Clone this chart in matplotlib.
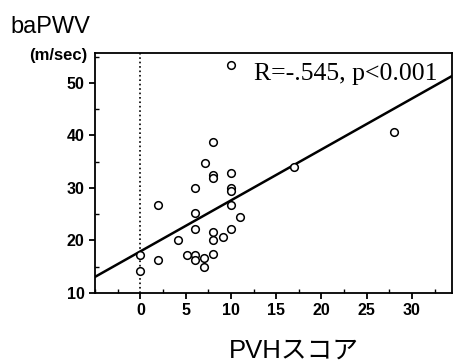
import numpy as np
import matplotlib.pyplot as plt
from matplotlib.ticker import MultipleLocator

# PVHスコア vs baPWV
pvh = [10, 8, 7.1, 8, 8, 10, 10, 10, 6, 2, 10, 11, 6, 6, 4.2, 8, 8, 9.1, 10,
       0, 0, 2, 5.1, 6, 6, 7, 7, 8, 17, 28]
bapwv = [53.4, 38.8, 34.7, 32.5, 31.8, 32.8, 29.9, 29.3, 29.9, 26.8, 26.8, 24.5,
         25.3, 22.1, 20.1, 21.5, 20.0, 20.7, 22.2, 17.2, 14.1, 16.2, 17.2, 17.2,
         16.2, 16.6, 15.0, 17.4, 33.9, 40.7]

# regression line
fit_intercept = 17.9
fit_slope = 0.97

xticks = [0, 5, 10, 15, 20, 25, 30]
yticks = [10, 20, 30, 40, 50]

plt.rcParams['font.family'] = ['Liberation Sans', 'Noto Sans CJK JP']

fig = plt.figure(figsize=(4.55, 3.62), dpi=100)
ax = fig.add_axes([0.209, 0.191, 0.784, 0.663])

xlim = (-5, 34.4)
ylim = (10, 55.7)

ax.axvline(0, color='black', linestyle=':', linewidth=1.2)
xs = np.array(xlim)
ax.plot(xs, fit_intercept + fit_slope * xs, color='black', linewidth=1.8)
ax.plot(pvh, bapwv, 'o', markerfacecolor='white', markeredgecolor='black',
        markersize=5.5, markeredgewidth=1.1, linestyle='none')

ax.set_xlim(xlim)
ax.set_ylim(ylim)
ax.set_xticks(xticks)
ax.set_yticks(yticks)
ax.yaxis.set_minor_locator(MultipleLocator(5))
ax.xaxis.set_minor_locator(MultipleLocator(2.5))
ax.tick_params(which='major', direction='out', length=4, width=1.3, labelsize=11.5)
ax.tick_params(which='minor', direction='in', length=3, width=1)
for lbl in ax.get_xticklabels() + ax.get_yticklabels():
    lbl.set_fontweight('bold')
for s in ax.spines.values():
    s.set_linewidth(1.3)

ax.text(0.961, 0.8875, 'R=-.545, p<0.001', transform=ax.transAxes,
        ha='right', va='baseline', fontsize=18.5, family='Liberation Serif')

fig.text(0.022, 0.909, 'baPWV', fontsize=17, fontweight='medium', va='baseline')
fig.text(0.193, 0.834, '(m/sec)', fontsize=12, fontweight='bold', ha='right',
         va='baseline')
fig.text(0.646, 0.012, 'PVHスコア', fontsize=18.5, ha='center', va='baseline')

fig.savefig('out.png', dpi=100)
